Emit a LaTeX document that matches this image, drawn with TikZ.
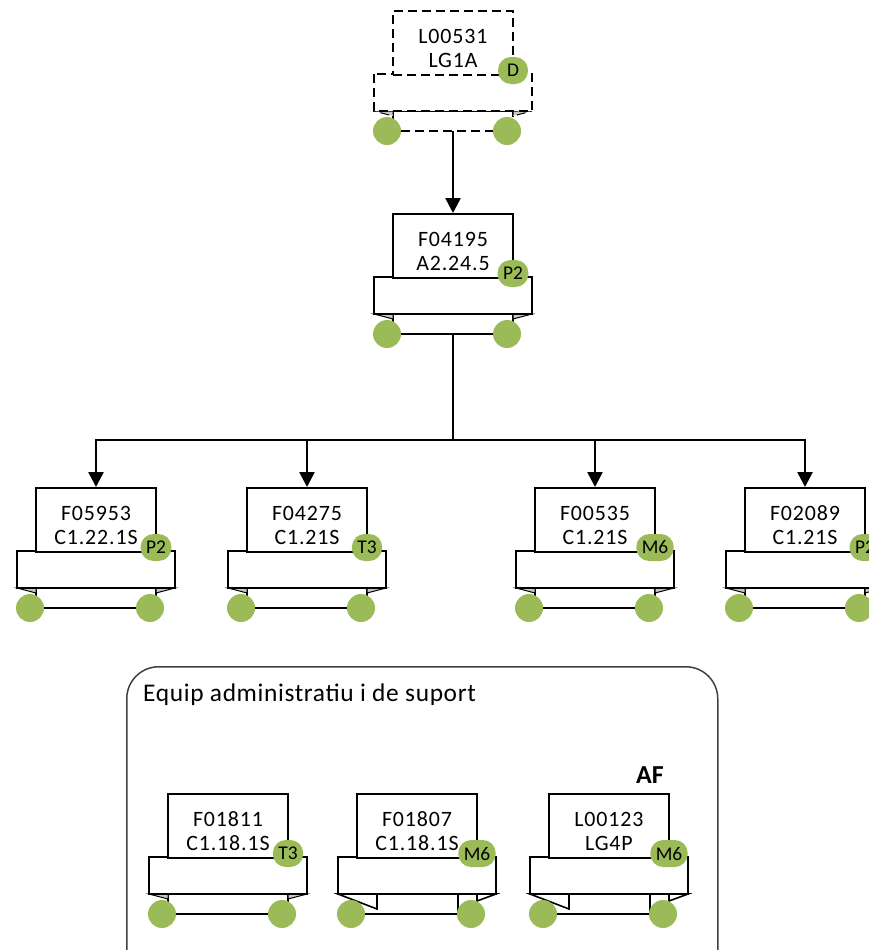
\documentclass[tikz,border=0pt]{standalone}
\usepackage{fontspec}
\setmainfont{Carlito}
\newfontfamily\cardfont[LetterSpace=4]{Carlito}
\newfontfamily\titlefont[LetterSpace=2.5]{Carlito}
\usetikzlibrary{arrows.meta}
\definecolor{badgegreen}{HTML}{9BBB59}
\definecolor{foldgray}{HTML}{C8C8C8}
\definecolor{grpgray}{HTML}{404040}
\tikzset{
  cardline/.style={draw=black, line width=1.6bp, fill=white},
  cardtext/.style={anchor=base, inner sep=0pt, font=\cardfont\fontsize{22}{22}\selectfont},
  badge/.style={fill=badgegreen, rounded corners=13bp, minimum height=27bp, minimum width=30bp, inner xsep=5.5bp, inner ysep=0pt, font=\fontsize{19.5}{19.5}\selectfont},
  dot/.style={circle, fill=badgegreen, minimum size=28bp, inner sep=0pt},
  bus/.style={line width=2.6bp},
  conn/.style={line width=2.6bp, -{Triangle[length=15bp,width=15bp]}},
  dashcard/.style={dash pattern=on 9bp off 5bp},
}
% standard fold: grey triangles, lower band full width
\newcommand\foldA{%
  \draw[cardline] (-60,101) rectangle (60,121);
  \filldraw[draw=black, line width=1bp, fill=foldgray] (-79,101) -- (-60,101) -- (-60,106) -- cycle;
  \filldraw[draw=black, line width=1bp, fill=foldgray] (79,101) -- (60,101) -- (60,106) -- cycle;
}
% alternative fold
\newcommand\foldB{%
  \draw[cardline] (-60,101) rectangle (41,121);
  \draw[cardline] (-79,101) -- (-40,101) -- (-40,116) -- cycle;
  \draw[cardline] (79,101) -- (60,101) -- (60,108) -- cycle;
}
% #1 scope style, #2 name, #3 cx, #4 top, #5 line1, #6 line2, #7 badge, #8 fold macro
\newcommand\orgcard[8]{%
  \begin{scope}[shift={(#3,#4)},#1]
    #8
    \draw[cardline] (-79,64) rectangle (79,101);
    \node[cardline, minimum width=120bp, minimum height=64bp, inner sep=0pt, anchor=north] (#2) at (0,0) {};
    \node[cardtext] (#2-a) at (0,33) {#5};
    \node[cardtext] (#2-c) at (0,57.5) {#6};
    \node[badge] (#2-badge) at (60,60.5) {#7};
    \node[dot] (#2-dl) at (-66,121) {};
    \node[dot] (#2-dr) at (54,121) {};
    \coordinate (#2-b) at (0,121);
  \end{scope}
}
\begin{document}
\begin{tikzpicture}[x=1bp, y=-1bp]
  \clip (0,0) rectangle (869,950);
  \fill[white] (0,0) rectangle (869,950);

  % group container
  \node[draw=grpgray, line width=1.5bp, rounded corners=32bp, minimum width=591bp, minimum height=340bp, inner sep=0pt, anchor=north west] (grp) at (126,666) {};
  \node[anchor=base west, inner sep=0pt, font=\titlefont\fontsize{25.5}{25.5}\selectfont] (grptitle) at (143,701) {Equip administratiu i de suport};
  \node[anchor=base, inner sep=0pt, font=\bfseries\fontsize{26}{26}\selectfont] (af) at (650,783) {AF};

  \orgcard{dashcard}{l00531}{453}{10}{L00531}{LG1A}{D}{\foldA}
  \orgcard{}{f04195}{453}{213}{F04195}{A2.24.5}{P2}{\foldA}
  \orgcard{}{f05953}{96}{487}{F05953}{C1.22.1S}{P2}{\foldA}
  \orgcard{}{f04275}{307}{487}{F04275}{C1.21S}{T3}{\foldA}
  \orgcard{}{f00535}{595}{487}{F00535}{C1.21S}{M6}{\foldA}
  \orgcard{}{f02089}{805}{487}{F02089}{C1.21S}{P2}{\foldA}
  \orgcard{}{f01811}{228}{793}{F01811}{C1.18.1S}{T3}{\foldA}
  \orgcard{}{f01807}{417}{793}{F01807}{C1.18.1S}{M6}{\foldB}
  \orgcard{}{l00123}{609}{793}{L00123}{LG4P}{M6}{\foldB}

  % connectors
  \draw[conn] (l00531-b) -- (f04195);
  \coordinate (hub) at (453,440);
  \coordinate (j1) at (96,440);
  \coordinate (j2) at (307,440);
  \coordinate (j3) at (595,440);
  \coordinate (j4) at (805,440);
  \draw[bus] (f04195-b) -- (hub);
  \draw[bus, line cap=rect] (j1) -- (j4);
  \draw[conn] (j1) -- (f05953);
  \draw[conn] (j2) -- (f04275);
  \draw[conn] (j3) -- (f00535);
  \draw[conn] (j4) -- (f02089);
\end{tikzpicture}
\end{document}
